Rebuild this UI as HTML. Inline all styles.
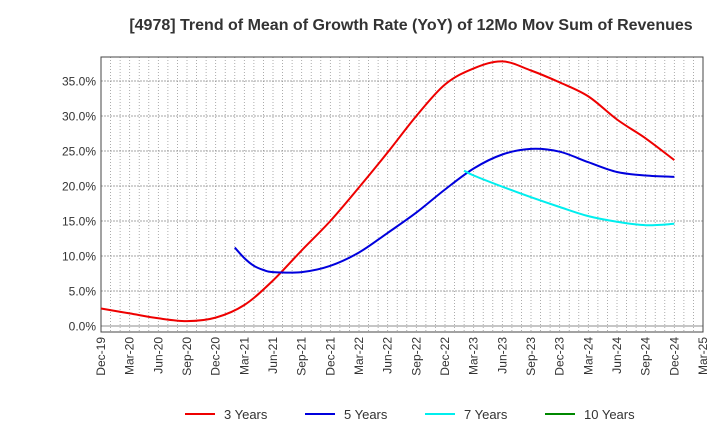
<!DOCTYPE html>
<html><head><meta charset="utf-8"><style>
body{margin:0;background:#fff;font-family:"Liberation Sans",sans-serif}
svg text{font-family:"Liberation Sans",sans-serif}
</style></head><body>
<svg id="c" width="720" height="440" xmlns="http://www.w3.org/2000/svg">
<text x="411" y="30" text-anchor="middle" font-size="16" font-weight="bold" fill="#333">[4978]  Trend of Mean of Growth Rate (YoY) of 12Mo Mov Sum of Revenues</text>
<g id="grid"></g><g id="axes"></g><g id="series"></g><g id="legend"></g>
</svg>
<script>
const xLabels=["Dec-19","Mar-20","Jun-20","Sep-20","Dec-20","Mar-21","Jun-21","Sep-21","Dec-21","Mar-22","Jun-22","Sep-22","Dec-22","Mar-23","Jun-23","Sep-23","Dec-23","Mar-24","Jun-24","Sep-24","Dec-24","Mar-25"];
const yTicks=[0,5,10,15,20,25,30,35];
// months since Dec-19
const red3m=[0,3,6,9,12,15,18,21,24,27,30,33,36,39,42,45,48,51,54,57,60];
const red3=[2.5,1.8,1.1,0.7,1.2,3.0,6.5,10.8,15.0,19.8,24.8,30.0,34.5,36.8,37.8,36.5,34.8,32.8,29.5,26.8,23.7];
const blue5m=[14,15,16,17,18,21,24,27,30,33,36,39,42,45,48,51,54,57,60];
const blue5=[11.2,9.7,8.6,8.0,7.7,7.7,8.6,10.5,13.3,16.2,19.5,22.5,24.5,25.3,24.9,23.4,22.0,21.5,21.3];
const cyan7m=[38,39,42,45,48,51,54,57,60];
const cyan7=[22.2,21.5,19.9,18.4,17.0,15.7,14.9,14.4,14.6];
const green10m=[];
const green10=[];
const L=101,R=703,T=57,B=332;
const X=m=>L+m*(R-L)/63;
const Y=v=>326-v*7;
const NS="http://www.w3.org/2000/svg";
function mk(t,a,p){const e=document.createElementNS(NS,t);for(const k in a)e.setAttribute(k,a[k]);p.appendChild(e);return e;}
const grid=document.getElementById('grid'),axes=document.getElementById('axes'),ser=document.getElementById('series'),leg=document.getElementById('legend');
for(let m=1;m<63;m++){const l=mk('line',{x1:X(m),x2:X(m),y1:T,y2:B,stroke:'#999','stroke-width':0.8,'stroke-dasharray':'1,2'},grid);

}
yTicks.forEach(v=>{const l=mk('line',{x1:L,x2:R,y1:Y(v),y2:Y(v),stroke:v===0?'#666':'#888','stroke-width':0.8,'stroke-dasharray':v===0?'':'2,1'},grid);


const t=mk('text',{x:L-5,y:Y(v)+4.5,'text-anchor':'end','font-size':12,fill:'#333'},axes);t.textContent=v.toFixed(1)+'%';

});
const fr=mk('rect',{x:L,y:T,width:R-L,height:B-T,fill:'none',stroke:'#444','stroke-width':1},axes);


xLabels.forEach((s,i)=>{const x=X(i*3);const t=mk('text',{x:0,y:0,'text-anchor':'end','font-size':12,fill:'#333',transform:`translate(${x+4},${B+5}) rotate(-90)`},axes);t.textContent=s;

});
function path(ms,vs){const p=ms.map((m,i)=>[X(m),Y(vs[i])]);if(!p.length)return'';let d=`M${p[0][0]},${p[0][1]}`;
for(let i=0;i<p.length-1;i++){const p0=p[i-1]||p[i],p1=p[i],p2=p[i+1],p3=p[i+2]||p2;
d+=` C${p1[0]+(p2[0]-p0[0])/6},${p1[1]+(p2[1]-p0[1])/6} ${p2[0]-(p3[0]-p1[0])/6},${p2[1]-(p3[1]-p1[1])/6} ${p2[0]},${p2[1]}`;}return d;}
const S=[[red3m,red3,'#ee0000','3 Years','series-3-years'],[blue5m,blue5,'#0000dd','5 Years','series-5-years'],[cyan7m,cyan7,'#00eeee','7 Years','series-7-years'],[green10m,green10,'#008800','10 Years','series-10-years']];
S.forEach((s,i)=>{if(s[0].length){const p=mk('path',{d:path(s[0],s[1]),fill:'none',stroke:s[2],'stroke-width':2},ser);

}
const lx=185+i*120;const ll=mk('line',{x1:lx,x2:lx+30,y1:414,y2:414,stroke:s[2],'stroke-width':2},leg);


const t=mk('text',{x:lx+39,y:419,'font-size':13,fill:'#333'},leg);t.textContent=s[3];

});
</script>
</body></html>
